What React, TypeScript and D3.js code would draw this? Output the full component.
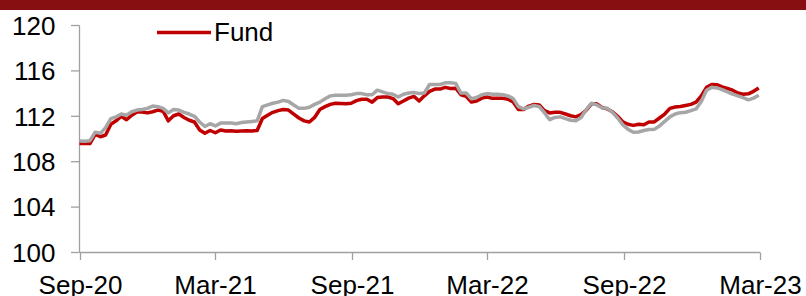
import { useMemo } from 'react';
import * as d3 from 'd3';

// weekly observations, Sep-20 .. Feb-23
const dates = [
  '2020-09-01', '2020-09-08', '2020-09-15', '2020-09-22', '2020-09-29', '2020-10-06', '2020-10-13', '2020-10-20',
  '2020-10-27', '2020-11-03', '2020-11-10', '2020-11-17', '2020-11-24', '2020-12-01', '2020-12-08', '2020-12-15',
  '2020-12-22', '2020-12-29', '2021-01-05', '2021-01-12', '2021-01-19', '2021-01-26', '2021-02-02', '2021-02-09',
  '2021-02-16', '2021-02-23', '2021-03-02', '2021-03-09', '2021-03-16', '2021-03-23', '2021-03-30', '2021-04-06',
  '2021-04-13', '2021-04-20', '2021-04-27', '2021-05-04', '2021-05-11', '2021-05-18', '2021-05-25', '2021-06-01',
  '2021-06-08', '2021-06-15', '2021-06-22', '2021-06-29', '2021-07-06', '2021-07-13', '2021-07-20', '2021-07-27',
  '2021-08-03', '2021-08-10', '2021-08-17', '2021-08-24', '2021-08-31', '2021-09-07', '2021-09-14', '2021-09-21',
  '2021-09-28', '2021-10-05', '2021-10-12', '2021-10-19', '2021-10-26', '2021-11-02', '2021-11-09', '2021-11-16',
  '2021-11-23', '2021-11-30', '2021-12-07', '2021-12-14', '2021-12-21', '2021-12-28', '2022-01-04', '2022-01-11',
  '2022-01-18', '2022-01-25', '2022-02-01', '2022-02-08', '2022-02-15', '2022-02-22', '2022-03-01', '2022-03-08',
  '2022-03-15', '2022-03-22', '2022-03-29', '2022-04-05', '2022-04-12', '2022-04-19', '2022-04-26', '2022-05-03',
  '2022-05-10', '2022-05-17', '2022-05-24', '2022-05-31', '2022-06-07', '2022-06-14', '2022-06-21', '2022-06-28',
  '2022-07-05', '2022-07-12', '2022-07-19', '2022-07-26', '2022-08-02', '2022-08-09', '2022-08-16', '2022-08-23',
  '2022-08-30', '2022-09-06', '2022-09-13', '2022-09-20', '2022-09-27', '2022-10-04', '2022-10-11', '2022-10-18',
  '2022-10-25', '2022-11-01', '2022-11-08', '2022-11-15', '2022-11-22', '2022-11-29', '2022-12-06', '2022-12-13',
  '2022-12-20', '2022-12-27', '2023-01-03', '2023-01-10', '2023-01-17', '2023-01-24', '2023-01-31', '2023-02-07',
  '2023-02-14', '2023-02-21', '2023-02-28',
];

const fund = [
  109.6, 109.6, 109.6, 110.4, 110.2, 110.35, 111.3, 111.6, 112.0, 111.7, 112.1, 112.38, 112.38, 112.3, 112.4, 112.55,
  112.45, 111.6, 112.05, 112.2, 111.9, 111.65, 111.5, 110.8, 110.5, 110.75, 110.55, 110.8, 110.7, 110.72, 110.68, 110.7,
  110.72, 110.7, 110.75, 111.8, 112.1, 112.35, 112.5, 112.6, 112.55, 112.2, 111.85, 111.6, 111.5, 111.9, 112.6, 112.85,
  113.05, 113.15, 113.12, 113.1, 113.15, 113.38, 113.5, 113.5, 113.25, 113.65, 113.7, 113.7, 113.56, 113.1, 113.35, 113.6,
  113.75, 113.35, 113.8, 114.2, 114.4, 114.4, 114.55, 114.45, 114.48, 113.9, 113.75, 113.25, 113.35, 113.6, 113.7, 113.58,
  113.6, 113.58, 113.5, 113.27, 112.6, 112.6, 112.9, 113.05, 113.0, 112.5, 112.3, 112.35, 112.35, 112.2, 112.05, 111.95,
  112.15, 112.55, 113.1, 113.1, 112.78, 112.65, 112.4, 112.0, 111.5, 111.3, 111.2, 111.3, 111.25, 111.5, 111.5, 111.85,
  112.2, 112.7, 112.82, 112.86, 112.95, 113.05, 113.25, 113.8, 114.55, 114.8, 114.78, 114.6, 114.45, 114.3, 114.05, 113.95,
  113.98, 114.2, 114.5,
];

const benchmark = [
  109.83, 109.8, 109.85, 110.6, 110.5, 111.0, 111.8, 111.95, 112.2, 112.1, 112.4, 112.55, 112.6, 112.7, 112.9, 112.85,
  112.7, 112.3, 112.6, 112.55, 112.35, 112.2, 112.0, 111.5, 111.1, 111.35, 111.15, 111.4, 111.4, 111.4, 111.35, 111.45,
  111.5, 111.55, 111.6, 112.85, 113.0, 113.15, 113.25, 113.4, 113.3, 113.0, 112.7, 112.7, 112.8, 113.05, 113.25, 113.55,
  113.8, 113.85, 113.85, 113.85, 113.9, 114.0, 114.0, 113.9, 113.9, 114.3, 114.15, 114.0, 113.95, 113.7, 113.95, 114.05,
  114.1, 114.0, 114.05, 114.8, 114.8, 114.8, 114.95, 114.95, 114.9, 114.05, 114.05, 113.55, 113.65, 113.9, 114.0, 113.95,
  113.95, 113.9, 113.8, 113.56, 112.85, 112.65, 112.8, 112.95, 112.85, 112.3, 111.7, 111.9, 111.95, 111.8, 111.65, 111.6,
  111.9, 112.6, 113.15, 113.0, 112.75, 112.7, 112.35, 111.85, 111.25, 110.85, 110.6, 110.62, 110.75, 110.83, 110.85, 111.15,
  111.55, 111.95, 112.2, 112.32, 112.36, 112.5, 112.65, 113.3, 114.3, 114.55, 114.5, 114.35, 114.15, 113.95, 113.8, 113.65,
  113.45, 113.6, 113.85,
];

const yTicks = [100, 104, 108, 112, 116, 120];
const xTicks = ['2020-09-01', '2021-03-01', '2021-09-01', '2022-03-01', '2022-09-01', '2023-03-01'];

const W = 806;
const H = 296;
const FONT = '"Liberation Sans", Arial, sans-serif';
const AXIS = '#A0A0A0';

export default function App() {
  const parse = d3.timeParse('%Y-%m-%d');

  const x = d3.scaleTime()
    .domain([parse('2020-09-01')!, parse('2023-03-01')!])
    .range([79.5, 759.5]);
  const y = d3.scaleLinear().domain([100, 120]).range([252.5, 25.5]);

  const paths = useMemo(() => {
    const line = d3.line<number>()
      .x((_, i) => x(parse(dates[i])!))
      .y(d => y(d));
    return { fund: line(fund) || '', bench: line(benchmark) || '' };
  }, []);

  const fmt = d3.timeFormat('%b-%y');

  return (
    <div style={{ position: 'absolute', left: 0, top: 0 }}>
      <svg width={W} height={H} style={{ display: 'block', background: '#fff' }}>
        <rect x={0} y={0} width={W} height={10} fill="#870F12" />

        {/* y axis */}
        <line x1={79.5} x2={79.5} y1={y(120)} y2={y(100)} stroke={AXIS} strokeWidth={1.3} />
        {yTicks.map(t => (
          <g key={t}>
            <line x1={71} x2={79.5} y1={y(t)} y2={y(t)} stroke={AXIS} strokeWidth={1.3} />
            <text x={55.5} y={y(t)} dy="0.36em" textAnchor="end" fontFamily={FONT} fontSize={26} fill="#000">
              {t}
            </text>
          </g>
        ))}

        {/* x axis */}
        <line x1={79.5} x2={760} y1={y(100)} y2={y(100)} stroke={AXIS} strokeWidth={1.3} />
        {xTicks.map(s => {
          const d = parse(s)!;
          const px = Math.round(x(d)) + 0.5;
          return (
            <g key={s}>
              <line x1={px} x2={px} y1={y(100)} y2={260} stroke={AXIS} strokeWidth={1.3} />
              <text x={px} y={294} textAnchor="middle" fontFamily={FONT} fontSize={26} fill="#000">
                {fmt(d)}
              </text>
            </g>
          );
        })}

        {/* series */}
        <path d={paths.fund} fill="none" stroke="#C00000" strokeWidth={3.5} strokeLinejoin="round" />
        <path d={paths.bench} fill="none" stroke="#A6A6A6" strokeWidth={3.5} strokeLinejoin="round" />

        {/* legend */}
        <line x1={157} x2={211} y1={32.5} y2={32.5} stroke="#C00000" strokeWidth={3.5} />
        <text x={214} y={41} fontFamily={FONT} fontSize={26} fill="#000">Fund</text>
      </svg>
    </div>
  );
}
